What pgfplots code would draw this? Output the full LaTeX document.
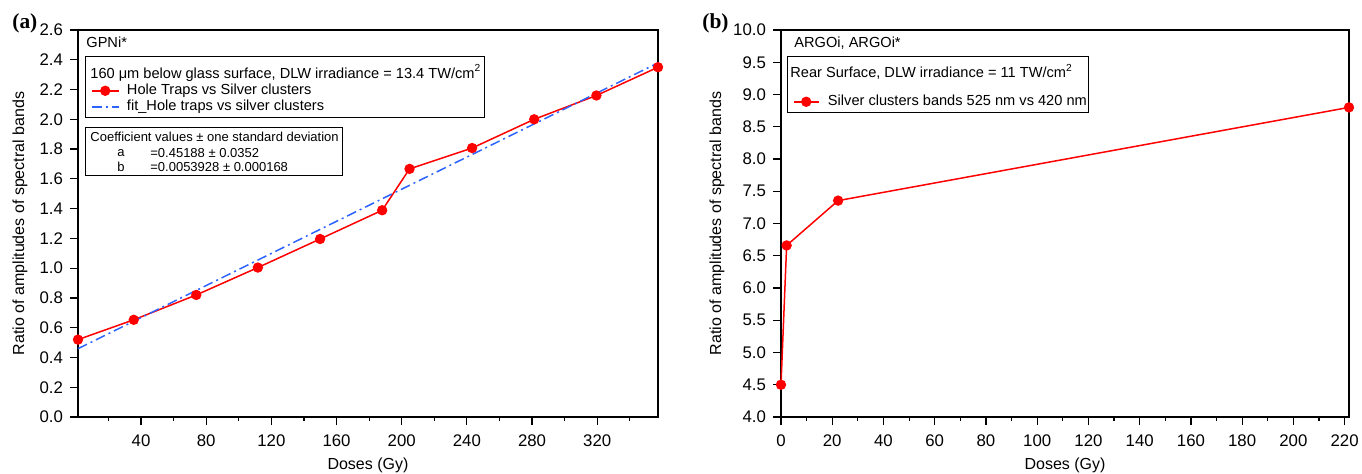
\documentclass[border=0pt]{standalone}
\usepackage{fontspec}
\setmainfont{Liberation Sans}
\newfontfamily\panelfont{Liberation Serif}
\usepackage{pgfplots}
\pgfplotsset{compat=1.18}
\definecolor{fitblue}{RGB}{45,100,255}
\definecolor{datared}{RGB}{255,0,0}

\newcommand{\tickfont}{\fontsize{8.4}{10}\selectfont}
\newcommand{\labfont}{\fontsize{8}{9.6}\selectfont}
\newcommand{\legfont}{\fontsize{7.3}{8.5}\selectfont}

\pgfplotsset{
  common/.style={
    scale only axis, height=193.5pt,
    axis line style={line width=0.6pt},
    tick align=outside, tick pos=left,
    major tick length=4pt, minor tick length=2pt,
    every tick/.style={black, line width=0.6pt},
    xticklabel style={font=\tickfont, yshift=-1.3pt},
    yticklabel style={font=\tickfont, /pgf/number format/.cd, fixed, fixed zerofill, precision=1},
    clip=false,
    legend cell align=left,
    legend image code/.code={\draw[mark repeat=2,mark phase=2,##1] plot coordinates {(0pt,0pt) (6.75pt,0pt) (13.5pt,0pt)};},
    /pgf/number format/assume math mode=true,
  },
  redline/.style={color=datared, line width=0.75pt, mark=*, mark size=2.2pt, mark options={solid, fill=datared, draw=datared}},
}

\begin{document}
\begin{tikzpicture}
\useasboundingbox (0,0) rectangle (681pt,236.5pt);
\node[anchor=west, font=\panelfont\bfseries\fontsize{10.7}{12}\selectfont, inner sep=0pt] at (6pt,225pt) {(a)};
\node[anchor=west, font=\panelfont\bfseries\fontsize{10.7}{12}\selectfont, inner sep=0pt] at (351pt,225pt) {(b)};

% ---------------- left panel ----------------
\begin{axis}[common,
  at={(39pt,28pt)}, anchor=south west, width=290pt,
  xmin=1.3, xmax=357.3, ymin=0, ymax=2.6,
  xtick={40,80,...,320}, minor xtick={20,60,...,340},
  ytick={0,0.2,...,2.61},
  xlabel={Doses (Gy)},
  ylabel={Ratio of amplitudes of spectral bands},
  every axis x label/.style={at={(axis description cs:0.5,-0.124)}, anchor=center, font=\labfont},
  every axis y label/.style={at={(axis description cs:-0.1,0.5)}, rotate=90, anchor=center, font=\labfont},
  legend style={at={(axis description cs:0.0224,0.863)}, anchor=north west,
    draw=none, fill=none, inner sep=0pt, outer sep=0pt, row sep=0.25pt, column sep=3.5pt,
    font=\legfont,
    nodes={inner sep=0.25pt, text height=5.5pt, text depth=1.75pt}},
]
\addplot[redline] coordinates {
  (1.3,0.52) (35.5,0.653) (73.9,0.82) (111.7,1.004) (149.9,1.196)
  (188.0,1.389) (204.8,1.667) (243.2,1.807) (281.3,2.0) (319.5,2.16) (357.3,2.35)
};
\addlegendentry{Hole Traps vs Silver clusters}
\addplot[color=fitblue, line width=0.75pt, dash pattern=on 5pt off 2pt on 1pt off 2pt] coordinates {
  (1.3,0.459) (357.3,2.379)
};
\addlegendentry{fit\_Hole traps vs silver clusters}

\node[anchor=west, font=\legfont, inner sep=0pt] at (axis description cs:0.0138,0.969) {GPNi*};
\draw[line width=0.5pt] (axis description cs:0.0138,0.9328) rectangle (axis description cs:0.7017,0.7752);
\node[anchor=west, font=\legfont, inner sep=0pt] at (axis description cs:0.0207,0.889) {160 μm below glass surface, DLW irradiance = 13.4 TW/cm\textsuperscript{2}};
\draw[line width=0.5pt] (axis description cs:0.0138,0.7468) rectangle (axis description cs:0.4569,0.6253);
\node[anchor=west, font=\fontsize{6.5}{7.8}\selectfont, inner sep=0pt] at (axis description cs:0.0207,0.7235) {Coefficient values ± one standard deviation};
\node[anchor=center, font=\fontsize{6.5}{7.8}\selectfont, inner sep=0pt] at (axis description cs:0.0741,0.6822) {a};
\node[anchor=west, font=\fontsize{6.5}{7.8}\selectfont, inner sep=0pt] at (axis description cs:0.1241,0.6822) {=0.45188 ± 0.0352};
\node[anchor=center, font=\fontsize{6.5}{7.8}\selectfont, inner sep=0pt] at (axis description cs:0.0741,0.646) {b};
\node[anchor=west, font=\fontsize{6.5}{7.8}\selectfont, inner sep=0pt] at (axis description cs:0.1241,0.646) {=0.0053928 ± 0.000168};
\end{axis}

% ---------------- right panel ----------------
\begin{axis}[common,
  at={(390.5pt,28pt)}, anchor=south west, width=284pt,
  xmin=0, xmax=221.7, ymin=4, ymax=10,
  xtick={0,20,...,220}, minor xtick={10,30,...,210},
  ytick={4,4.5,...,10.01},
  xlabel={Doses (Gy)},
  ylabel={Ratio of amplitudes of spectral bands},
  every axis x label/.style={at={(axis description cs:0.5,-0.124)}, anchor=center, font=\labfont},
  every axis y label/.style={at={(axis description cs:-0.1127,0.5)}, rotate=90, anchor=center, font=\labfont},
  legend style={at={(axis description cs:0.0211,0.8346)}, anchor=north west,
    draw=none, fill=none, inner sep=0pt, outer sep=0pt, row sep=0.25pt, column sep=4pt,
    font=\legfont,
    nodes={inner sep=0.25pt, text height=5.5pt, text depth=1.75pt}},
  legend image code/.code={\draw[mark repeat=2,mark phase=2,#1] plot coordinates {(0pt,0pt) (6.25pt,0pt) (12.5pt,0pt)};},
]
\addplot[redline] coordinates {
  (0,4.5) (2.2,6.66) (22.3,7.355) (221.7,8.8)
};
\addlegendentry{Silver clusters bands 525 nm vs 420 nm}

\node[anchor=west, font=\legfont, inner sep=0pt] at (axis description cs:0.0229,0.9664) {ARGOi, ARGOi*};
\draw[line width=0.5pt] (axis description cs:0.0123,0.9328) rectangle (axis description cs:0.5405,0.7881);
\node[anchor=west, font=\legfont, inner sep=0pt] at (axis description cs:0.0158,0.8915) {Rear Surface, DLW irradiance = 11 TW/cm\textsuperscript{2}};
\end{axis}
\end{tikzpicture}
\end{document}
